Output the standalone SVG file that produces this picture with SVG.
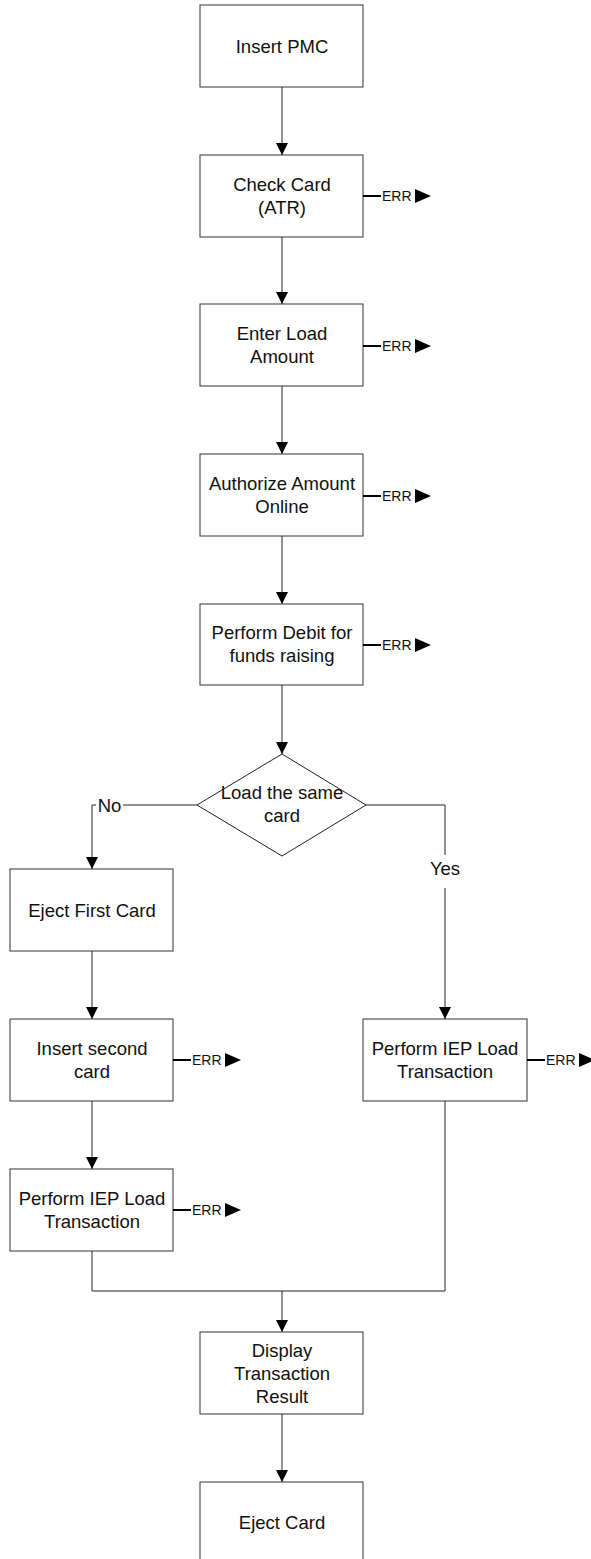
<svg xmlns="http://www.w3.org/2000/svg" width="591" height="1559" viewBox="0 0 591 1559">
<defs>
<style>
.box{fill:#fff;stroke:#333;stroke-width:1}
.t{font-family:"Liberation Sans",Arial,sans-serif;font-size:18.5px;fill:#111;text-anchor:middle}
.e{font-family:"Liberation Sans",Arial,sans-serif;font-size:14px;fill:#111}
.c{fill:none;stroke:#222;stroke-width:1}
.el{stroke:#000;stroke-width:2}
.tri{fill:#000}
</style>
<marker id="ah" viewBox="0 0 12 12" refX="12" refY="6" markerWidth="12" markerHeight="12" markerUnits="userSpaceOnUse" orient="auto">
<path d="M0,0 L12,6 L0,12 Z" fill="#000"/>
</marker>
<g id="err">
<line class="el" x1="0" y1="0" x2="18" y2="0"/>
<text class="e" x="19" y="5">ERR</text>
<path class="tri" d="M52,-7 L68,0 L52,7 Z"/>
</g>
</defs>
<rect width="591" height="1559" fill="#fff"/>
<g id="connectors">
<line class="c" x1="282" y1="87" x2="282" y2="155" marker-end="url(#ah)"/>
<line class="c" x1="282" y1="237" x2="282" y2="304" marker-end="url(#ah)"/>
<line class="c" x1="282" y1="386" x2="282" y2="454" marker-end="url(#ah)"/>
<line class="c" x1="282" y1="536" x2="282" y2="604" marker-end="url(#ah)"/>
<line class="c" x1="282" y1="685" x2="282" y2="754" marker-end="url(#ah)"/>
<polyline class="c" points="197,805 123,805"/>
<polyline class="c" points="96,805 92,805 92,869" marker-end="url(#ah)"/>
<text class="t" x="109.5" y="812">No</text>
<polyline class="c" points="366,805 445,805 445,855"/>
<polyline class="c" points="445,888 445,1019" marker-end="url(#ah)"/>
<text class="t" x="445" y="875">Yes</text>
<line class="c" x1="92" y1="951" x2="92" y2="1019" marker-end="url(#ah)"/>
<line class="c" x1="92" y1="1101" x2="92" y2="1169" marker-end="url(#ah)"/>
<polyline class="c" points="92,1251 92,1291 445,1291 445,1101"/>
<line class="c" x1="282" y1="1291" x2="282" y2="1332" marker-end="url(#ah)"/>
<line class="c" x1="282" y1="1414" x2="282" y2="1482" marker-end="url(#ah)"/>
</g>
<g id="n1"><rect class="box" x="200" y="5" width="163" height="82"/><text class="t" x="282" y="52.5">Insert PMC</text></g>
<g id="n2"><rect class="box" x="200" y="155" width="163" height="82"/><text class="t" x="282" y="190.5">Check Card</text><text class="t" x="282" y="213.5">(ATR)</text><use href="#err" x="363" y="196"/></g>
<g id="n3"><rect class="box" x="200" y="304" width="163" height="82"/><text class="t" x="282" y="339.5">Enter Load</text><text class="t" x="282" y="362.5">Amount</text><use href="#err" x="363" y="346"/></g>
<g id="n4"><rect class="box" x="200" y="454" width="163" height="82"/><text class="t" x="282" y="489.5">Authorize Amount</text><text class="t" x="282" y="512.5">Online</text><use href="#err" x="363" y="496"/></g>
<g id="n5"><rect class="box" x="200" y="604" width="163" height="81"/><text class="t" x="282" y="639">Perform Debit for</text><text class="t" x="282" y="662">funds raising</text><use href="#err" x="363" y="645"/></g>
<g id="d1"><polygon points="282,754 366,805 282,856 197,805" fill="#fff" stroke="#222" stroke-width="1"/><text class="t" x="282" y="799">Load the same</text><text class="t" x="282" y="822">card</text></g>
<g id="n6"><rect class="box" x="10" y="869" width="163" height="82"/><text class="t" x="92" y="916.5">Eject First Card</text></g>
<g id="n7"><rect class="box" x="10" y="1019" width="163" height="82"/><text class="t" x="92" y="1054.5">Insert second</text><text class="t" x="92" y="1077.5">card</text><use href="#err" x="173" y="1060"/></g>
<g id="n8"><rect class="box" x="10" y="1169" width="163" height="82"/><text class="t" x="92" y="1204.5">Perform IEP Load</text><text class="t" x="92" y="1227.5">Transaction</text><use href="#err" x="173" y="1210"/></g>
<g id="n9"><rect class="box" x="363" y="1019" width="164" height="82"/><text class="t" x="445" y="1054.5">Perform IEP Load</text><text class="t" x="445" y="1077.5">Transaction</text><use href="#err" x="527" y="1060"/></g>
<g id="n10"><rect class="box" x="200" y="1332" width="163" height="82"/><text class="t" x="282" y="1356.5">Display</text><text class="t" x="282" y="1379.5">Transaction</text><text class="t" x="282" y="1402.5">Result</text></g>
<g id="n11"><rect class="box" x="200" y="1482" width="163" height="90"/><text class="t" x="282" y="1529">Eject Card</text></g>
</svg>
